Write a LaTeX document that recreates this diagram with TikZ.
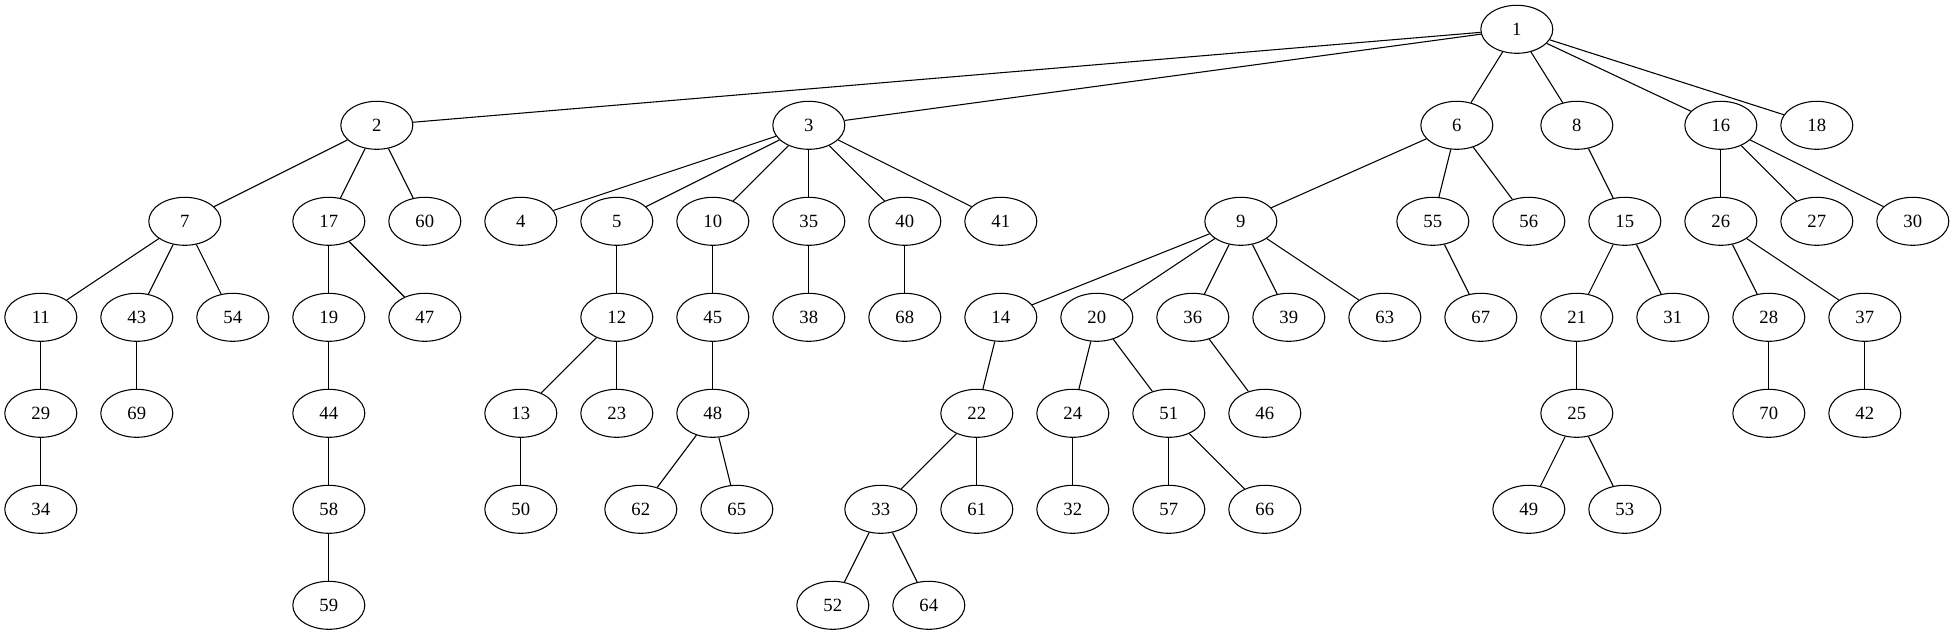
\documentclass[tikz,border=0pt]{standalone}
\usepackage{fontspec}
\setmainfont{Liberation Serif}
\usetikzlibrary{shapes.geometric}
\begin{document}
\begin{tikzpicture}[x=0.75pt,y=-0.75pt,
  gv/.style={draw,ellipse,minimum width=54pt,minimum height=36pt,inner sep=0pt,line width=0.8pt,font=\fontsize{14pt}{16pt}\selectfont},
  ed/.style={line width=0.8pt}]
\useasboundingbox (0,0) rectangle (1955,635);
% row 0
\node[gv] (n1) at (1516.8,29.3) {1};
% row 1
\node[gv] (n2) at (376.8,125.3) {2};
\node[gv] (n3) at (808.8,125.3) {3};
\node[gv] (n6) at (1456.8,125.3) {6};
\node[gv] (n8) at (1576.8,125.3) {8};
\node[gv] (n16) at (1720.8,125.3) {16};
\node[gv] (n18) at (1816.8,125.3) {18};
% row 2
\node[gv] (n7) at (184.8,221.3) {7};
\node[gv] (n17) at (328.8,221.3) {17};
\node[gv] (n60) at (424.8,221.3) {60};
\node[gv] (n4) at (520.8,221.3) {4};
\node[gv] (n5) at (616.8,221.3) {5};
\node[gv] (n10) at (712.8,221.3) {10};
\node[gv] (n35) at (808.8,221.3) {35};
\node[gv] (n40) at (904.8,221.3) {40};
\node[gv] (n41) at (1000.8,221.3) {41};
\node[gv] (n9) at (1240.8,221.3) {9};
\node[gv] (n55) at (1432.8,221.3) {55};
\node[gv] (n56) at (1528.8,221.3) {56};
\node[gv] (n15) at (1624.8,221.3) {15};
\node[gv] (n26) at (1720.8,221.3) {26};
\node[gv] (n27) at (1816.8,221.3) {27};
\node[gv] (n30) at (1912.8,221.3) {30};
% row 3
\node[gv] (n11) at (40.8,317.3) {11};
\node[gv] (n43) at (136.8,317.3) {43};
\node[gv] (n54) at (232.8,317.3) {54};
\node[gv] (n19) at (328.8,317.3) {19};
\node[gv] (n47) at (424.8,317.3) {47};
\node[gv] (n12) at (616.8,317.3) {12};
\node[gv] (n45) at (712.8,317.3) {45};
\node[gv] (n38) at (808.8,317.3) {38};
\node[gv] (n68) at (904.8,317.3) {68};
\node[gv] (n14) at (1000.8,317.3) {14};
\node[gv] (n20) at (1096.8,317.3) {20};
\node[gv] (n36) at (1192.8,317.3) {36};
\node[gv] (n39) at (1288.8,317.3) {39};
\node[gv] (n63) at (1384.8,317.3) {63};
\node[gv] (n67) at (1480.8,317.3) {67};
\node[gv] (n21) at (1576.8,317.3) {21};
\node[gv] (n31) at (1672.8,317.3) {31};
\node[gv] (n28) at (1768.8,317.3) {28};
\node[gv] (n37) at (1864.8,317.3) {37};
% row 4
\node[gv] (n29) at (40.8,413.3) {29};
\node[gv] (n69) at (136.8,413.3) {69};
\node[gv] (n44) at (328.8,413.3) {44};
\node[gv] (n13) at (520.8,413.3) {13};
\node[gv] (n23) at (616.8,413.3) {23};
\node[gv] (n48) at (712.8,413.3) {48};
\node[gv] (n22) at (976.8,413.3) {22};
\node[gv] (n24) at (1072.8,413.3) {24};
\node[gv] (n51) at (1168.8,413.3) {51};
\node[gv] (n46) at (1264.8,413.3) {46};
\node[gv] (n25) at (1576.8,413.3) {25};
\node[gv] (n70) at (1768.8,413.3) {70};
\node[gv] (n42) at (1864.8,413.3) {42};
% row 5
\node[gv] (n34) at (40.8,509.3) {34};
\node[gv] (n58) at (328.8,509.3) {58};
\node[gv] (n50) at (520.8,509.3) {50};
\node[gv] (n62) at (640.8,509.3) {62};
\node[gv] (n65) at (736.8,509.3) {65};
\node[gv] (n33) at (880.8,509.3) {33};
\node[gv] (n61) at (976.8,509.3) {61};
\node[gv] (n32) at (1072.8,509.3) {32};
\node[gv] (n57) at (1168.8,509.3) {57};
\node[gv] (n66) at (1264.8,509.3) {66};
\node[gv] (n49) at (1528.8,509.3) {49};
\node[gv] (n53) at (1624.8,509.3) {53};
% row 6
\node[gv] (n59) at (328.8,605.3) {59};
\node[gv] (n52) at (832.8,605.3) {52};
\node[gv] (n64) at (928.8,605.3) {64};
% edges
\foreach \a/\b in {1/2,1/3,1/6,1/8,1/16,1/18,
  2/7,2/17,2/60,3/4,3/5,3/10,3/35,3/40,3/41,
  6/9,6/55,6/56,8/15,16/26,16/27,16/30,
  7/11,7/43,7/54,17/19,17/47,5/12,10/45,35/38,40/68,
  9/14,9/20,9/36,9/39,9/63,55/67,15/21,15/31,26/28,26/37,
  11/29,43/69,19/44,12/13,12/23,45/48,14/22,20/24,20/51,36/46,
  21/25,28/70,37/42,29/34,44/58,13/50,48/62,48/65,22/33,22/61,
  24/32,51/57,51/66,25/49,25/53,58/59,33/52,33/64}
  \draw[ed] (n\a) -- (n\b);
\end{tikzpicture}
\end{document}
